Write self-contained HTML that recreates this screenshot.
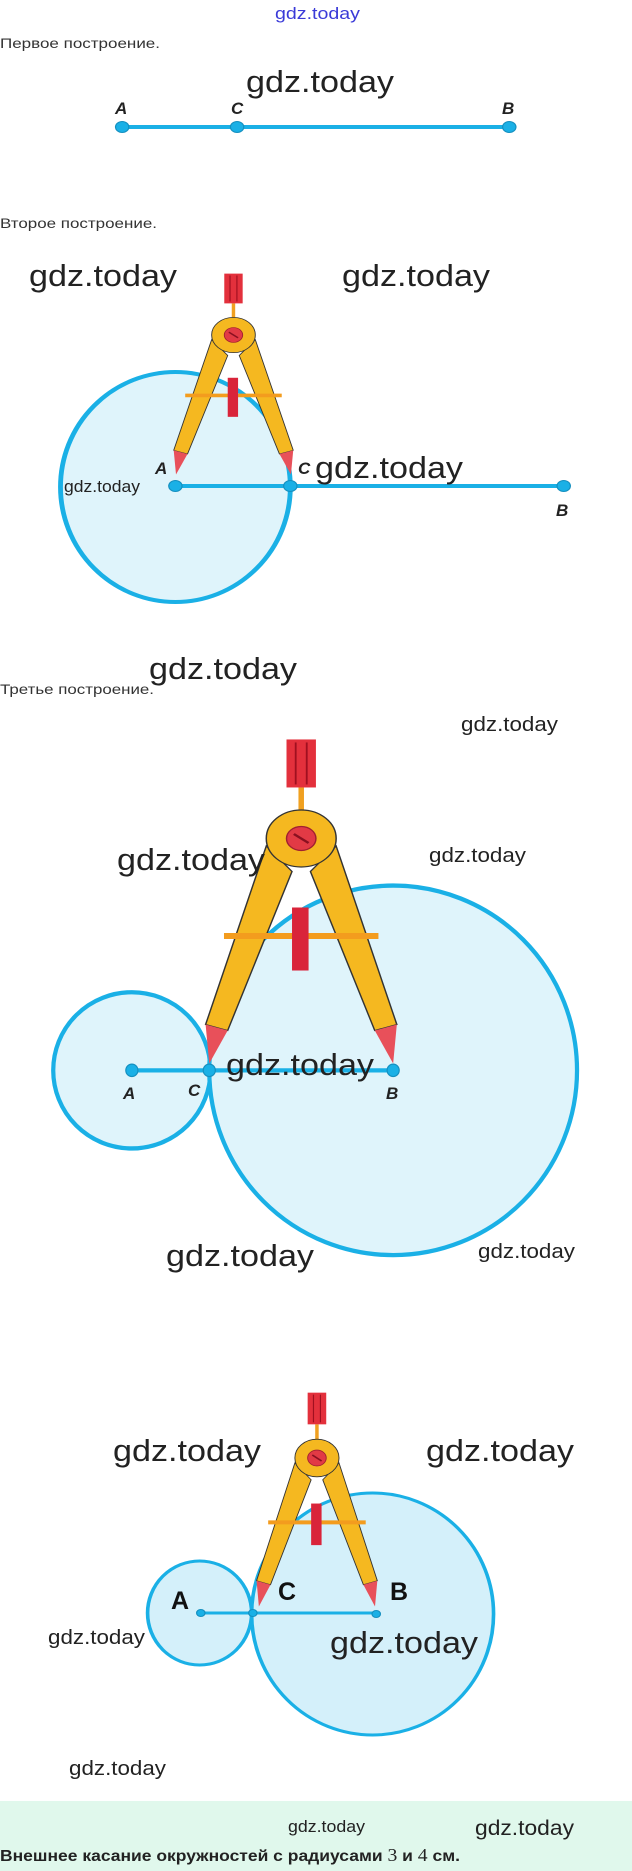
<!DOCTYPE html>
<html><head><meta charset="utf-8"><style>
html,body{margin:0;padding:0;background:#fff;}
svg{display:block;}
text{font-family:"Liberation Sans",sans-serif;}
.w{fill:#222;}
.t{fill:#333;font-size:14px;}
.lb{font-weight:bold;font-style:italic;fill:#222;font-size:17px;}
.lb4{font-weight:bold;fill:#111;font-size:25px;}
</style></head><body>
<svg width="632" height="1871" viewBox="0 0 632 1871" xmlns="http://www.w3.org/2000/svg">
<defs>
<g id="cmp">
  <line x1="0" y1="-34" x2="0" y2="-18" stroke="#f0a020" stroke-width="3"/>
  <rect x="-8" y="-66" width="16" height="32" fill="#e3303c"/>
  <line x1="-3" y1="-64" x2="-3" y2="-36" stroke="#a01020" stroke-width="1"/>
  <line x1="3" y1="-64" x2="3" y2="-36" stroke="#a01020" stroke-width="1"/>
  <polygon points="-19,5 -5,22 -40,128 -52,124" fill="#f5b820" stroke="#333" stroke-width="0.8"/>
  <polygon points="19,5 5,22 40,128 52,124" fill="#f5b820" stroke="#333" stroke-width="0.8"/>
  <polygon points="-52,124 -40,128 -50,150" fill="#e8505a"/>
  <polygon points="52,124 40,128 50,150" fill="#e8505a"/>
  <circle cx="0" cy="0" r="19" fill="#f5b820" stroke="#333" stroke-width="0.8"/>
  <circle cx="0" cy="0" r="8" fill="#e23a45" stroke="#a02030" stroke-width="0.8"/>
  <line x1="-4" y1="-3" x2="4" y2="3" stroke="#8a1020" stroke-width="1.5"/>
  <line x1="-42" y1="65" x2="42" y2="65" stroke="#f39c1e" stroke-width="4"/>
  <rect x="-5" y="46" width="9" height="42" fill="#d9243a"/>
</g>
</defs>

<g transform="scale(1.2097,1)">
<!-- Section 1 -->
<line x1="101" y1="127" x2="421" y2="127" stroke="#1ab0e6" stroke-width="4"/>
<circle cx="101" cy="127" r="5.5" fill="#1ab0e6" stroke="#1590c0"/>
<circle cx="196" cy="127" r="5.5" fill="#1ab0e6" stroke="#1590c0"/>
<circle cx="421" cy="127" r="5.5" fill="#1ab0e6" stroke="#1590c0"/>
<!-- Section 2 -->
<ellipse cx="145" cy="487" rx="95" ry="115" fill="#dff4fb" stroke="#1ab0e6" stroke-width="4"/>
<line x1="145" y1="486" x2="466" y2="486" stroke="#1ab0e6" stroke-width="4"/>
<circle cx="145" cy="486" r="5.5" fill="#1ab0e6" stroke="#1590c0"/>
<circle cx="240" cy="486" r="5.5" fill="#1ab0e6" stroke="#1590c0"/>
<circle cx="466" cy="486" r="5.5" fill="#1ab0e6" stroke="#1590c0"/>
<use href="#cmp" transform="translate(193,335) scale(0.95,0.93)"/>
<!-- Section 4 -->
<ellipse cx="165" cy="1613" rx="43" ry="52" fill="#d4f0fa" stroke="#1ab0e6" stroke-width="3"/>
<ellipse cx="308" cy="1614" rx="100" ry="121" fill="#d4f0fa" stroke="#1ab0e6" stroke-width="3"/>
<line x1="166" y1="1613" x2="311" y2="1613" stroke="#1ab0e6" stroke-width="3"/>
<circle cx="166" cy="1613" r="3.5" fill="#1ab0e6" stroke="#1590c0"/>
<circle cx="209" cy="1613" r="3.5" fill="#1ab0e6" stroke="#1590c0"/>
<circle cx="311" cy="1614" r="3.5" fill="#1ab0e6" stroke="#1590c0"/>
<use href="#cmp" transform="translate(262,1458) scale(0.96,0.99)"/>
</g>

<!-- Section 3 -->
<g transform="translate(0,650) scale(1.2097,1.24) translate(0,-650)">
<ellipse cx="109" cy="989" rx="65" ry="63" fill="#dff4fb" stroke="#1ab0e6" stroke-width="3.5"/>
<ellipse cx="325" cy="989" rx="152" ry="149" fill="#dff4fb" stroke="#1ab0e6" stroke-width="3.5"/>
<line x1="109" y1="989" x2="325" y2="989" stroke="#1ab0e6" stroke-width="3.5"/>
<circle cx="109" cy="989" r="5" fill="#1ab0e6" stroke="#1590c0"/>
<circle cx="173" cy="989" r="5" fill="#1ab0e6" stroke="#1590c0"/>
<circle cx="325" cy="989" r="5" fill="#1ab0e6" stroke="#1590c0"/>
<use href="#cmp" transform="translate(249,802) scale(1.52,1.21)"/>
</g>

<!-- Texts -->
<text x="275" y="19" fill="#3a3ad8" font-size="17" textLength="85" lengthAdjust="spacingAndGlyphs">gdz.today</text>
<text class="t" x="0" y="48" textLength="160" lengthAdjust="spacingAndGlyphs">Первое построение.</text>
<text class="w" x="246" y="92" font-size="31" textLength="148" lengthAdjust="spacingAndGlyphs">gdz.today</text>
<text class="lb" x="115" y="114">A</text>
<text class="lb" x="231" y="114">C</text>
<text class="lb" x="502" y="114">B</text>

<text class="t" x="0" y="228" textLength="157" lengthAdjust="spacingAndGlyphs">Второе построение.</text>
<text class="w" x="29" y="286" font-size="31" textLength="148" lengthAdjust="spacingAndGlyphs">gdz.today</text>
<text class="w" x="342" y="286" font-size="31" textLength="148" lengthAdjust="spacingAndGlyphs">gdz.today</text>
<text class="w" x="64" y="492" font-size="17" textLength="76" lengthAdjust="spacingAndGlyphs">gdz.today</text>
<text class="lb" x="155" y="474">A</text>
<text class="lb" x="298" y="474">C</text>
<text class="lb" x="556" y="516">B</text>
<text class="w" x="315" y="478" font-size="31" textLength="148" lengthAdjust="spacingAndGlyphs">gdz.today</text>

<text class="t" x="0" y="694" textLength="154" lengthAdjust="spacingAndGlyphs">Третье построение.</text>
<text class="w" x="149" y="679" font-size="31" textLength="148" lengthAdjust="spacingAndGlyphs">gdz.today</text>
<text class="w" x="461" y="731" font-size="20" textLength="97" lengthAdjust="spacingAndGlyphs">gdz.today</text>
<text class="w" x="117" y="870" font-size="31" textLength="148" lengthAdjust="spacingAndGlyphs">gdz.today</text>
<text class="w" x="429" y="862" font-size="20" textLength="97" lengthAdjust="spacingAndGlyphs">gdz.today</text>
<text class="w" x="226" y="1075" font-size="31" textLength="148" lengthAdjust="spacingAndGlyphs">gdz.today</text>
<text class="lb" x="123" y="1099">A</text>
<text class="lb" x="188" y="1096">C</text>
<text class="lb" x="386" y="1099">B</text>
<text class="w" x="166" y="1266" font-size="31" textLength="148" lengthAdjust="spacingAndGlyphs">gdz.today</text>
<text class="w" x="478" y="1258" font-size="20" textLength="97" lengthAdjust="spacingAndGlyphs">gdz.today</text>

<text class="w" x="113" y="1461" font-size="31" textLength="148" lengthAdjust="spacingAndGlyphs">gdz.today</text>
<text class="w" x="426" y="1461" font-size="31" textLength="148" lengthAdjust="spacingAndGlyphs">gdz.today</text>
<text class="lb4" x="171" y="1609">A</text>
<text class="lb4" x="278" y="1600">C</text>
<text class="lb4" x="390" y="1600">B</text>
<text class="w" x="48" y="1644" font-size="20" textLength="97" lengthAdjust="spacingAndGlyphs">gdz.today</text>
<text class="w" x="330" y="1653" font-size="31" textLength="148" lengthAdjust="spacingAndGlyphs">gdz.today</text>
<text class="w" x="69" y="1775" font-size="20" textLength="97" lengthAdjust="spacingAndGlyphs">gdz.today</text>

<rect x="0" y="1801" width="632" height="70" fill="#e0f8ec"/>
<text class="w" x="288" y="1832" font-size="17" textLength="77" lengthAdjust="spacingAndGlyphs">gdz.today</text>
<text class="w" x="475" y="1835" font-size="21" textLength="99" lengthAdjust="spacingAndGlyphs">gdz.today</text>
<text x="0" y="1861" fill="#222" font-size="16" font-weight="bold" textLength="460" lengthAdjust="spacingAndGlyphs">Внешнее касание окружностей с радиусами <tspan font-family="Liberation Serif" font-weight="normal" font-size="18">3</tspan> и <tspan font-family="Liberation Serif" font-weight="normal" font-size="18">4</tspan> см.</text>
</svg>
</body></html>
